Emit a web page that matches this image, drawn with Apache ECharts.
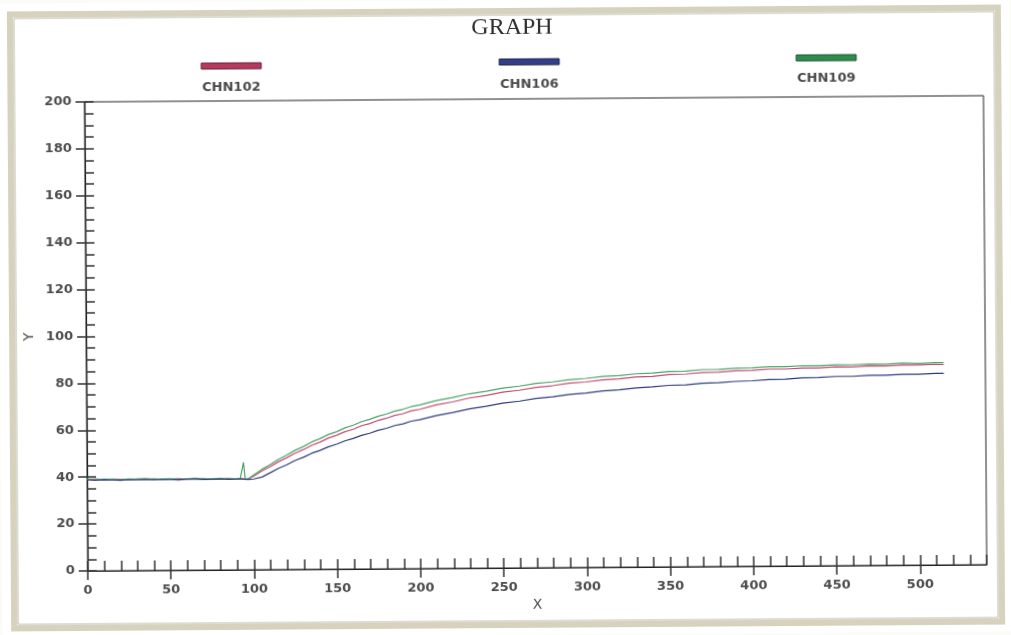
<!DOCTYPE html>
<html>
<head>
<meta charset="utf-8">
<script src="https://cdn.jsdelivr.net/npm/echarts@6/dist/echarts.min.js"></script>
<style>
html,body{margin:0;padding:0;background:#fbfbf8;overflow:hidden;}
#c{width:1011px;height:635px;transform:rotate(-0.4deg);transform-origin:50% 50%;}
</style>
</head>
<body>
<div id="c"></div>
<script>
// ---- data ----
const xs = [0,5,10,15,20,25,30,35,40,45,50,55,60,65,70,75,80,85,90,
  92,93,94,95,97,
  100,105,110,115,120,125,130,135,140,145,150,155,160,165,170,175,180,185,190,195,200,
  210,220,230,240,250,260,270,280,290,300,310,320,330,340,350,360,370,380,390,400,
  410,420,430,440,450,460,470,480,490,500,510,515];

const chn102 = [39.0,39.2,38.9,39.1,39.0,38.8,39.1,39.0,39.1,38.9,39.0,39.1,38.9,39.0,39.1,38.8,39.0,39.1,38.9,
  39.0,39.1,38.9,38.6,38.8,
  39.9,42.1,43.9,46.0,47.7,49.6,51.1,52.9,54.2,55.9,57.1,58.6,59.6,61.1,62.0,63.3,64.2,65.4,66.1,67.3,67.9,
  69.8,71.0,72.6,73.6,75.0,75.8,76.9,77.6,78.6,79.1,79.9,80.3,81.1,81.3,82.0,82.2,82.8,82.9,83.4,83.5,
  84.0,84.0,84.4,84.4,84.8,84.7,85.1,85.0,85.3,85.3,85.6,85.5];

const chn106 = [38.8,38.6,38.9,38.7,38.5,38.8,38.7,38.9,38.6,38.8,38.7,38.5,38.8,38.9,38.6,38.7,38.8,38.6,38.7,
  38.8,38.7,38.6,38.3,38.5,
  38.7,39.5,41.3,43.2,44.7,46.5,47.8,49.5,50.7,52.2,53.3,54.7,55.7,57.0,57.9,59.1,59.9,61.1,61.8,62.9,63.5,
  65.2,66.5,68.0,69.0,70.3,71.1,72.2,72.9,73.8,74.4,75.2,75.6,76.4,76.8,77.4,77.6,78.2,78.4,78.9,79.1,
  79.6,79.7,80.2,80.3,80.7,80.7,81.1,81.1,81.4,81.4,81.7,81.7];

const chn109 = [39.2,38.9,39.1,39.0,38.8,39.1,39.0,39.2,38.9,39.0,39.1,38.8,39.0,39.2,38.9,39.0,39.1,38.9,39.0,
  39.0,39.1,45.8,38.6,38.9,
  40.4,42.8,44.8,47.0,48.8,50.8,52.4,54.3,55.7,57.4,58.6,60.2,61.3,62.8,63.8,65.1,66.0,67.2,68.0,69.1,69.8,
  71.6,72.9,74.4,75.4,76.7,77.5,78.6,79.2,80.1,80.6,81.4,81.7,82.4,82.7,83.3,83.4,84.0,84.1,84.5,84.6,
  85.0,85.0,85.4,85.3,85.7,85.6,85.9,85.8,86.2,86.0,86.3,86.3];

const seriesNames = ['CHN102','CHN106','CHN109'];
const xMajorTicks = [0,50,100,150,200,250,300,350,400,450,500];
const yMajorTicks = [0,20,40,60,80,100,120,140,160,180,200];

// ---- styles ----
const lineColors = ['#c84a72','#2f3b7e','#4aa468'];
const legendFill = ['#b53a5d','#343f88','#2f8c4c'];
const legendStroke = ['#6a2236','#1e2550','#1c5a30'];
const seriesZ = [3, 5, 4];
const labelFont = 'DejaVu Sans';
const labelColor = '#4d4d4d';

const pair = ys => xs.map((x,i)=>[x, ys[i]]);

const chart = echarts.init(document.getElementById('c'), null, {renderer:'canvas'});

const legendPos = [[203,61,233,79],[501,59,531,78],[798,57,828,74]];
const graphics = [
  {type:'rect', shape:{x:12,y:11,width:988,height:614}, style:{fill:'none', stroke:'#d6d2bd', lineWidth:6}, silent:true},
  {type:'rect', shape:{x:16,y:15,width:980,height:606}, style:{fill:'none', stroke:'#bcb9a6', lineWidth:1}, silent:true},
  {type:'text', x:514, y:16, style:{text:'GRAPH', font:'24px "Liberation Serif", serif', fill:'#2e2e2e', align:'center', verticalAlign:'top'}}
];
seriesNames.forEach((n,i)=>{
  const p = legendPos[i];
  graphics.push({type:'rect', shape:{x:p[0], y:p[1], width:60, height:6}, style:{fill:legendFill[i], stroke:legendStroke[i], lineWidth:1}});
  graphics.push({type:'text', x:p[2], y:p[3], style:{text:n, font:'bold 13px "DejaVu Sans"', fill:'#4a4a4a', align:'center', verticalAlign:'top'}});
});

const xBase = {type:'value', min:0, max:540, position:'bottom', gridIndex:0};
const yBase = {type:'value', min:0, max:200, position:'left', gridIndex:0};

chart.setOption({
  animation:false,
  backgroundColor:'#ffffff',
  grid:{left:86, right:26, top:99, bottom:67, show:true, borderColor:'#222', borderWidth:1, backgroundColor:'transparent'},
  graphic: graphics,
  xAxis:[
    Object.assign({}, xBase, {
      interval:10,
      name:'X', nameLocation:'middle', nameGap:30,
      nameTextStyle:{fontFamily:labelFont, fontSize:14, color:labelColor},
      axisLine:{show:true, onZero:false, lineStyle:{color:'#222', width:1.2}},
      axisTick:{show:true, inside:true, length:10, lineStyle:{color:'#333', width:1.5}},
      axisLabel:{show:false},
      splitLine:{show:false}
    }),
    Object.assign({}, xBase, {
      interval:50,
      axisLine:{show:false, onZero:false},
      axisTick:{show:true, inside:false, length:9, customValues:xMajorTicks, lineStyle:{color:'#333', width:1.5}},
      axisLabel:{show:true, margin:13, customValues:xMajorTicks, fontFamily:labelFont, fontWeight:'bold', fontSize:13, color:labelColor},
      splitLine:{show:false}
    })
  ],
  yAxis:[
    Object.assign({}, yBase, {
      interval:5,
      name:'Y', nameLocation:'middle', nameGap:50, nameRotate:90,
      nameTextStyle:{fontFamily:labelFont, fontSize:14, color:labelColor},
      axisLine:{show:true, onZero:false, lineStyle:{color:'#222', width:1.2}},
      axisTick:{show:true, inside:true, length:9, lineStyle:{color:'#333', width:1.5}},
      axisLabel:{show:false},
      splitLine:{show:false}
    }),
    Object.assign({}, yBase, {
      interval:20,
      axisLine:{show:false, onZero:false},
      axisTick:{show:true, inside:false, length:9, customValues:yMajorTicks, lineStyle:{color:'#333', width:1.5}},
      axisLabel:{show:true, margin:13, customValues:yMajorTicks, fontFamily:labelFont, fontWeight:'bold', fontSize:13, color:labelColor},
      splitLine:{show:false}
    })
  ],
  series:[chn102, chn106, chn109].map((ys,i)=>({
    name: seriesNames[i], type:'line', xAxisIndex:0, yAxisIndex:0,
    data: pair(ys), showSymbol:false, symbol:'none', smooth:false,
    lineStyle:{color:lineColors[i], width:1.2}, itemStyle:{color:lineColors[i]},
    z: seriesZ[i]
  }))
});
</script>
</body>
</html>
